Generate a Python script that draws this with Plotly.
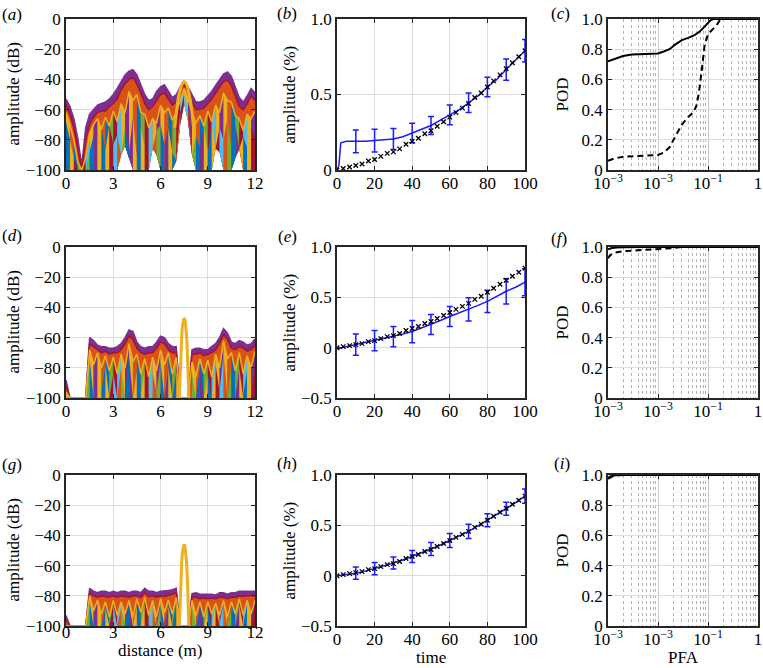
import plotly.graph_objects as go

W, H = 763, 668
FONT = "Liberation Serif, Times New Roman, serif"

# ---------------- range profiles (a), (d), (g) ----------------
distance_m = [0, 0.25, 0.5, 0.75, 1, 1.25, 1.5, 1.75, 2, 2.25, 2.5, 2.75,
              3, 3.25, 3.5, 3.75, 4, 4.25, 4.5, 4.75, 5, 5.25, 5.5, 5.75,
              6, 6.25, 6.5, 6.75, 7, 7.25, 7.5, 7.75, 8, 8.25, 8.5, 8.75,
              9, 9.25, 9.5, 9.75, 10, 10.25, 10.5, 10.75, 11, 11.25, 11.5, 11.75,
              12]

a_env = [-53, -58, -66, -79, -97, -72, -63, -60, -57, -56, -55, -53,
         -50, -46, -41, -37, -34.5, -33.5, -37, -43, -50, -54, -53, -48,
         -45, -43.5, -48, -52, -50, -45, -41.5, -45, -50, -55, -55, -54,
         -51, -48, -44, -40, -36.5, -35, -38, -45, -52, -55, -51, -46,
         -49]
a_layer2 = [-57, -63, -72, -86, -100, -80, -70, -65, -62, -61, -61, -58,
            -56, -53, -47, -43, -40, -39, -43, -49, -56, -60, -58, -54,
            -50, -49, -53, -57, -55, -48, -43.5, -48, -55, -60, -60, -59,
            -56, -53, -49, -45, -41.5, -40.5, -44, -51, -58, -60, -56, -51,
            -54]
a_layer3 = [-62, -70, -80, -95, -100, -92, -76, -70, -66, -73, -65, -71,
            -61, -68, -56, -62, -48, -54, -50, -62, -63, -72, -66, -69,
            -57, -62, -59, -67, -62, -54, -46, -53, -62, -69, -64, -71,
            -61, -68, -57, -62, -49, -54, -55, -64, -66, -74, -63, -66,
            -61]
a_layer4 = [-68, -80, -92, -100, -100, -100, -88, -77, -82, -72, -87, -70,
            -83, -77, -95, -72, -88, -65, -92, -72, -85, -76, -98, -74,
            -70, -83, -72, -88, -100, -62, -50, -60, -100, -78, -85, -72,
            -88, -70, -98, -72, -80, -66, -86, -70, -93, -78, -85, -72,
            -78]
a_floor = [-100, -100, -100, -100, -100, -100, -100, -100, -100, -100, -100, -100,
           -100, -100, -90, -84, -92, -100, -100, -100, -100, -100, -86, -90,
           -100, -100, -100, -100, -94, -70, -56, -68, -90, -100, -100, -100,
           -100, -100, -86, -88, -100, -100, -100, -92, -86, -100, -100, -100,
           -100]
a_peak_x = [6.9, 7.0, 7.1, 7.2, 7.3, 7.4, 7.5, 7.6, 7.7, 7.8, 7.9, 8.0, 8.1]
a_peak_db = [-72, -62, -54, -48.5, -44.5, -42.3, -41.5, -42.3, -44.5, -48.5, -54, -62, -72]

d_env = [-88, -100, -100, -100, -100, -100, -60, -62, -65, -66, -66, -67,
         -67, -66, -64, -60, -55, -56, -63, -66, -67, -66, -66, -63,
         -59, -60, -64, -66, -66, -100, -100, -100, -68, -67, -67, -68,
         -68, -66, -64, -60, -54, -57, -63, -64, -62, -63, -65, -64,
         -61]
d_layer2 = [-92, -100, -100, -100, -100, -100, -64, -66, -68, -70, -69, -71,
            -70, -70, -68, -64, -59, -61, -67, -70, -71, -70, -70, -67,
            -63, -64, -68, -70, -70, -100, -100, -100, -71, -71, -70, -72,
            -71, -70, -68, -64, -58, -61, -67, -68, -66, -67, -69, -68,
            -65]
d_layer3 = [-96, -100, -100, -100, -100, -100, -68, -78, -70, -80, -72, -82,
            -73, -84, -71, -80, -64, -76, -71, -84, -74, -86, -73, -82,
            -68, -78, -70, -84, -73, -100, -100, -100, -76, -86, -74, -84,
            -75, -86, -71, -80, -62, -74, -70, -82, -70, -84, -72, -80,
            -69]
d_layer4 = [-100, -100, -100, -100, -100, -100, -74, -100, -80, -96, -78, -100,
            -84, -100, -80, -98, -72, -100, -82, -100, -80, -100, -84, -96,
            -76, -100, -80, -100, -82, -100, -100, -100, -84, -100, -80, -100,
            -84, -100, -78, -96, -70, -100, -78, -100, -80, -98, -82, -100,
            -78]
d_floor = [-100] * len(distance_m)
d_peak_x = [7.2, 7.25, 7.3, 7.35, 7.4, 7.45, 7.5, 7.55, 7.6, 7.65, 7.7, 7.75, 7.8]
d_peak_db = [-100, -84, -68, -58, -51.5, -48, -47, -48, -51.5, -58, -68, -84, -100]

g_env = [-93, -100, -100, -100, -100, -100, -75, -77, -78, -77, -77, -78,
         -77, -78, -77, -77, -78, -77, -77, -78, -75, -77, -77, -78,
         -77, -77, -76.5, -76, -75, -100, -100, -100, -78.5, -78, -79, -79,
         -79, -79, -79.5, -78, -78, -79, -78, -78, -77, -77, -76.5, -77,
         -77]
g_layer2 = [-96, -100, -100, -100, -100, -100, -78, -80, -81, -80, -80.5, -81,
            -80, -81, -80, -80.5, -81, -80, -80, -81, -78, -80.5, -80, -81,
            -80, -80.5, -80, -79, -78, -100, -100, -100, -81, -81, -82, -81.5,
            -82, -81.5, -82, -81, -81, -82, -81, -81, -80, -80.5, -80, -80,
            -80]
g_layer3 = [-100, -100, -100, -100, -100, -100, -80, -90, -83, -92, -84, -94,
            -83, -93, -84, -92, -83, -94, -82, -91, -81, -93, -83, -94,
            -82, -91, -83, -92, -81, -100, -100, -100, -83, -93, -84, -94,
            -84, -92, -85, -93, -83, -94, -84, -92, -82, -93, -83, -92,
            -83]
g_layer4 = [-100, -100, -100, -100, -100, -100, -84, -100, -87, -100, -88, -100,
            -86, -100, -88, -98, -86, -100, -87, -100, -85, -100, -88, -100,
            -86, -98, -87, -100, -84, -100, -100, -100, -87, -100, -88, -100,
            -88, -100, -87, -98, -86, -100, -88, -100, -86, -100, -85, -100,
            -86]
g_floor = [-100] * len(distance_m)
g_peak_x = [7.2, 7.25, 7.3, 7.35, 7.4, 7.45, 7.5, 7.55, 7.6, 7.65, 7.7, 7.75, 7.8]
g_peak_db = [-100, -83, -67, -57, -50.5, -47, -46, -47, -50.5, -57, -67, -83, -100]

# ---------------- amplitude tracking (b), (e), (h) ----------------
true_time = [0, 3.3, 6.7, 10, 13.3, 16.7, 20, 23.3, 26.7, 30, 33.3, 36.7, 40, 43.3,
             46.7, 50, 53.3, 56.7, 60, 63.3, 66.7, 70, 73.3, 76.7, 80, 83.3, 86.7,
             90, 93.3, 96.7, 100]
true_amp = [0, 0.01, 0.02, 0.03, 0.04, 0.06, 0.07, 0.09, 0.11, 0.12, 0.14, 0.17, 0.19,
            0.21, 0.24, 0.26, 0.29, 0.32, 0.35, 0.38, 0.41, 0.44, 0.48, 0.51, 0.55,
            0.59, 0.63, 0.67, 0.71, 0.75, 0.79]

b_time = [0, 1, 2, 5, 10, 15, 20, 25, 30, 35, 40, 45, 50, 55, 60, 65, 70, 75, 80, 85, 90, 95, 100]
b_amp = [0, 0.03, 0.18, 0.19, 0.19, 0.19, 0.195, 0.2, 0.205, 0.22, 0.245, 0.265, 0.295,
         0.33, 0.365, 0.4, 0.445, 0.49, 0.55, 0.6, 0.665, 0.73, 0.79]
b_bar_time = [10, 20, 30, 40, 50, 60, 70, 80, 90, 100]
b_bar_mean = [0.19, 0.195, 0.205, 0.245, 0.295, 0.365, 0.445, 0.55, 0.665, 0.79]
b_bar_half = [0.075, 0.075, 0.07, 0.065, 0.06, 0.065, 0.065, 0.065, 0.07, 0.075]

e_time = [0, 5, 10, 15, 20, 25, 30, 35, 40, 45, 50, 55, 60, 65, 70, 75, 80, 85, 90, 95, 100]
e_amp = [-0.01, 0.01, 0.03, 0.05, 0.07, 0.09, 0.11, 0.135, 0.16, 0.195, 0.23, 0.27, 0.31,
         0.345, 0.38, 0.42, 0.46, 0.51, 0.56, 0.6, 0.65]
e_bar_time = [10, 20, 30, 40, 50, 60, 70, 80, 90, 100]
e_bar_mean = [0.03, 0.07, 0.11, 0.16, 0.23, 0.31, 0.38, 0.46, 0.56, 0.65]
e_bar_half = [0.105, 0.1, 0.1, 0.11, 0.1, 0.1, 0.115, 0.11, 0.125, 0.135]

h_time = [0, 5, 10, 15, 20, 25, 30, 35, 40, 45, 50, 55, 60, 65, 70, 75, 80, 85, 90, 95, 100]
h_amp = [0, 0.01, 0.025, 0.045, 0.07, 0.095, 0.125, 0.155, 0.19, 0.225, 0.265, 0.305,
         0.35, 0.395, 0.44, 0.495, 0.55, 0.605, 0.665, 0.725, 0.79]
h_bar_time = [10, 20, 30, 40, 50, 60, 70, 80, 90, 100]
h_bar_mean = [0.025, 0.07, 0.125, 0.19, 0.265, 0.35, 0.44, 0.55, 0.665, 0.79]
h_bar_half = [0.06, 0.06, 0.06, 0.06, 0.065, 0.07, 0.07, 0.065, 0.065, 0.07]

# ---------------- ROC curves (c), (f), (i) ----------------
c_pfa_solid = [0.001, 0.0013, 0.0016, 0.002, 0.003, 0.005, 0.01, 0.013, 0.017, 0.022,
               0.03, 0.04, 0.055, 0.07, 0.085, 0.1, 0.115, 0.13, 1.0]
c_pod_solid = [0.72, 0.735, 0.745, 0.755, 0.765, 0.77, 0.772, 0.785, 0.8, 0.83,
               0.86, 0.875, 0.895, 0.92, 0.95, 0.975, 0.995, 1.0, 1.0]
c_pfa_dash = [0.001, 0.0013, 0.002, 0.005, 0.01, 0.013, 0.017, 0.022, 0.03, 0.04, 0.05,
              0.058, 0.065, 0.075, 0.085, 0.1, 0.12, 0.15, 0.17, 0.2, 1.0]
c_pod_dash = [0.06, 0.075, 0.088, 0.095, 0.1, 0.115, 0.15, 0.22, 0.3, 0.35, 0.38,
              0.42, 0.5, 0.66, 0.82, 0.9, 0.93, 0.96, 0.99, 1.0, 1.0]

f_pfa_solid = [0.001, 0.0012, 0.0015, 0.002, 0.005, 1.0]
f_pod_solid = [0.985, 0.993, 0.997, 0.999, 1.0, 1.0]
f_pfa_dash = [0.001, 0.0011, 0.0013, 0.0016, 0.002, 0.004, 0.01, 0.02, 0.03, 1.0]
f_pod_dash = [0.925, 0.945, 0.962, 0.968, 0.972, 0.978, 0.985, 0.993, 1.0, 1.0]

i_pfa_solid = [0.001, 0.0011, 0.0013, 0.0016, 1.0]
i_pod_solid = [0.98, 0.99, 0.997, 1.0, 1.0]
i_pfa_dash = [0.001, 0.0012, 0.0015, 0.002, 1.0]
i_pod_dash = [0.975, 0.99, 0.996, 1.0, 1.0]

pfa_ticks = [1e-3, 1e-2, 1e-1, 1]
pfa_ticktext = ["10<sup>\u22123</sup>", "10<sup>\u22123</sup>", "10<sup>\u22121</sup>", "1"]

# matlab line colours
MBLUE, MORANGE, MYELLOW, MPURPLE = "#0072BD", "#D95319", "#EDB120", "#7E2F8E"
MGREEN, MCYAN, MRED = "#77AC30", "#4DBEEE", "#A2142F"
BAND_FILLS = [MPURPLE, MORANGE]
BAND_EDGES = [MPURPLE, MRED]
STREAKS_3 = [MYELLOW, MORANGE, MBLUE, MGREEN, MRED, MCYAN, MYELLOW, MPURPLE]
STREAKS_4 = [MBLUE, MYELLOW, MRED, MCYAN, MORANGE, MGREEN, MBLUE, MPURPLE, MYELLOW]
BLUE = "#1a1aff"

# panel boxes in pixels: columns (left, right), rows (top, bottom)
cols = [(66, 255), (337, 525), (608, 758)]
rows = [(19, 170), (247, 398), (475, 626)]

fig = go.Figure()


def axis_ids(n):
    s = "" if n == 1 else str(n)
    return "x" + s, "y" + s


def add_profile(n, layers, floor, peak_x, peak_db):
    xa, ya = axis_ids(n)
    tops = [[max(v, f) for v, f in zip(layer, floor)] for layer in layers]
    for layer in layers:
        assert len(layer) == len(distance_m)
    # upper two layers: solid bands
    for k in range(2):
        top = tops[k]
        fig.add_trace(go.Scatter(x=distance_m + distance_m[::-1], y=top + floor[::-1],
                                 fill="toself", fillcolor=BAND_FILLS[k], mode="lines",
                                 line=dict(width=0), xaxis=xa, yaxis=ya,
                                 hoverinfo="skip", showlegend=False))
        fig.add_trace(go.Scatter(x=distance_m, y=top, mode="lines",
                                 line=dict(color=BAND_EDGES[k], width=1.5),
                                 xaxis=xa, yaxis=ya, showlegend=False))
    # lower two layers: narrow strips in cycling colours
    for k, palette in ((2, STREAKS_3), (3, STREAKS_4)):
        top = tops[k]
        for j in range(len(distance_m) - 1):
            xs = [distance_m[j], distance_m[j + 1], distance_m[j + 1], distance_m[j]]
            ys = [top[j], top[j + 1], floor[j + 1], floor[j]]
            fig.add_trace(go.Scatter(x=xs, y=ys, fill="toself",
                                     fillcolor=palette[j % len(palette)],
                                     mode="lines", line=dict(width=0),
                                     xaxis=xa, yaxis=ya, hoverinfo="skip",
                                     showlegend=False))
    fig.add_trace(go.Scatter(x=distance_m, y=tops[2], mode="lines",
                             line=dict(color=MYELLOW, width=1.5),
                             xaxis=xa, yaxis=ya, showlegend=False))
    fig.add_trace(go.Scatter(x=peak_x, y=peak_db, mode="lines",
                             line=dict(color=MYELLOW, width=3),
                             xaxis=xa, yaxis=ya, showlegend=False))


def add_tracking(n, t, amp, bt, bm, bh):
    xa, ya = axis_ids(n)
    fig.add_trace(go.Scatter(x=t, y=amp, mode="lines", line=dict(color=BLUE, width=1.5),
                             xaxis=xa, yaxis=ya, showlegend=False))
    fig.add_trace(go.Scatter(x=bt, y=bm, mode="markers", marker=dict(size=2, color=BLUE),
                             error_y=dict(type="data", array=bh, color=BLUE,
                                          thickness=1.5, width=3),
                             xaxis=xa, yaxis=ya, showlegend=False))
    fig.add_trace(go.Scatter(x=true_time, y=true_amp, mode="markers",
                             marker=dict(symbol="x-thin", size=4.5,
                                         line=dict(color="black", width=1.3)),
                             xaxis=xa, yaxis=ya, showlegend=False))


def add_roc(n, ps, ds, pd_, dd):
    xa, ya = axis_ids(n)
    fig.add_trace(go.Scatter(x=ps, y=ds, mode="lines", line=dict(color="black", width=2),
                             xaxis=xa, yaxis=ya, showlegend=False))
    fig.add_trace(go.Scatter(x=pd_, y=dd, mode="lines",
                             line=dict(color="black", width=2, dash="6px,4px"),
                             xaxis=xa, yaxis=ya, showlegend=False))


add_profile(1, [a_env, a_layer2, a_layer3, a_layer4], a_floor, a_peak_x, a_peak_db)
add_tracking(2, b_time, b_amp, b_bar_time, b_bar_mean, b_bar_half)
add_roc(3, c_pfa_solid, c_pod_solid, c_pfa_dash, c_pod_dash)
add_profile(4, [d_env, d_layer2, d_layer3, d_layer4], d_floor, d_peak_x, d_peak_db)
add_tracking(5, e_time, e_amp, e_bar_time, e_bar_mean, e_bar_half)
add_roc(6, f_pfa_solid, f_pod_solid, f_pfa_dash, f_pod_dash)
add_profile(7, [g_env, g_layer2, g_layer3, g_layer4], g_floor, g_peak_x, g_peak_db)
add_tracking(8, h_time, h_amp, h_bar_time, h_bar_mean, h_bar_half)
add_roc(9, i_pfa_solid, i_pod_solid, i_pfa_dash, i_pod_dash)


def base_axis(**kw):
    d = dict(showline=True, mirror="ticks", linecolor="#262626", linewidth=1.5,
             ticks="inside", ticklen=4, tickcolor="#262626", automargin=False,
             showgrid=True, gridcolor="#dcdcdc", gridwidth=1, zeroline=False,
             tickfont=dict(family=FONT, size=17, color="black"))
    d.update(kw)
    return d


minor_vals = [m * 10.0 ** e for e in (-3, -2, -1) for m in range(2, 10)]
layout = {}
for n in range(1, 10):
    r, c = (n - 1) // 3, (n - 1) % 3
    xdom = [cols[c][0] / W, cols[c][1] / W]
    ydom = [1 - rows[r][1] / H, 1 - rows[r][0] / H]
    xa, ya = axis_ids(n)
    xkey = "xaxis" if n == 1 else f"xaxis{n}"
    ykey = "yaxis" if n == 1 else f"yaxis{n}"
    # bottom row of the range profiles has its labels tucked close to the axis
    standoff = -10 if n == 7 else -3
    if c == 0:
        xax = base_axis(range=[0, 12], tickvals=[0, 3, 6, 9, 12], ticklabelstandoff=standoff)
        yax = base_axis(range=[-100, 0], tickvals=[-100, -80, -60, -40, -20, 0],
                        ticktext=["\u2212100", "\u221280", "\u221260", "\u221240", "\u221220", "0"])
    elif c == 1:
        xax = base_axis(range=[0, 100], tickvals=[0, 20, 40, 60, 80, 100],
                        ticklabelstandoff=standoff)
        if r == 0:
            yax = base_axis(range=[0, 1], tickvals=[0, 0.5, 1], ticktext=["0", "0.5", "1.0"])
        else:
            yax = base_axis(range=[-0.5, 1], tickvals=[-0.5, 0, 0.5, 1],
                            ticktext=["\u22120.5", "0", "0.5", "1.0"])
    else:
        xax = base_axis(type="log", range=[-3, 0], tickvals=pfa_ticks, ticktext=pfa_ticktext,
                        gridcolor="#c8c8c8", ticklabelstandoff=standoff,
                        minor=dict(tickmode="array", tickvals=minor_vals, ticks="",
                                   showgrid=True, griddash="dot", gridcolor="#b4b4b4",
                                   gridwidth=1))
        yax = base_axis(range=[0, 1], tickvals=[0, 0.2, 0.4, 0.6, 0.8, 1.0],
                        ticktext=["0", "0.2", "0.4", "0.6", "0.8", "1.0"])
    xax.update(domain=xdom, anchor=ya)
    yax.update(domain=ydom, anchor=xa)
    layout[xkey] = xax
    layout[ykey] = yax

annotations = []


def note(text, px, py, angle=0):
    annotations.append(dict(text=text, x=px / W, y=1 - py / H, xref="paper", yref="paper",
                            xanchor="center", yanchor="middle", showarrow=False,
                            textangle=angle, font=dict(family=FONT, size=17, color="black")))


for letter, (px, py) in zip("abcdefghi", [(12, 14), (287, 13), (560, 13),
                                          (12, 235), (287, 236), (559, 239),
                                          (12, 464), (287, 463), (562, 463)]):
    note(f"(<i>{letter}</i>)", px, py)

for r in range(3):
    yc = (rows[r][0] + rows[r][1]) / 2
    note("amplitude (dB)", 13, yc, -90)
    note("amplitude (%)", 289, yc, -90)
    note("POD", 562, yc, -90)

note("distance (m)", 160, 650)
note("time", 431, 657)
note("PFA", 683, 657)

fig.update_layout(**layout)
fig.update_layout(width=W, height=H, margin=dict(l=0, r=0, t=0, b=0),
                  paper_bgcolor="white", plot_bgcolor="white",
                  font=dict(family=FONT, size=17, color="black"),
                  annotations=annotations, showlegend=False)

# drop the page's default body margin so the figure sits at the window's corner
fig.write_html("out.html", config={"displayModeBar": False},
               post_script="document.body.style.margin='0px';")
